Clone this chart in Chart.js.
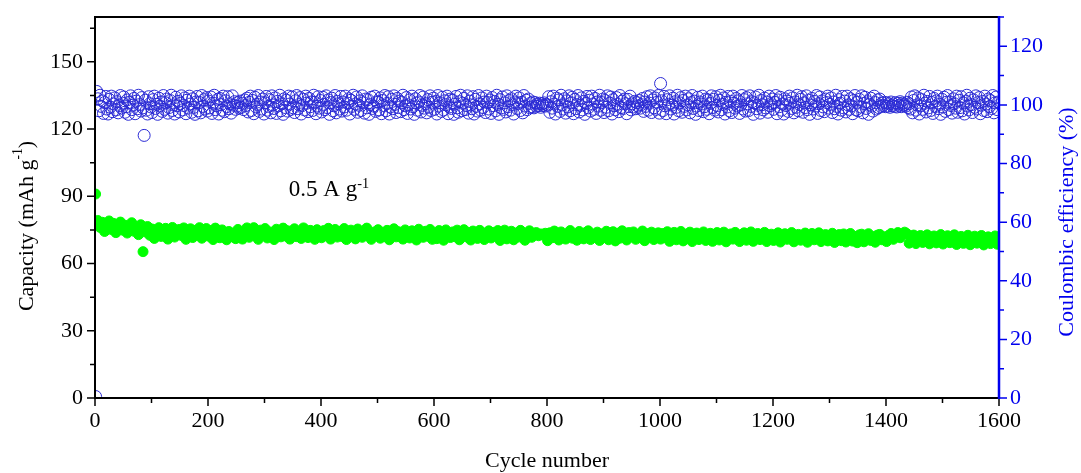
<!DOCTYPE html>
<html>
<head>
<meta charset="utf-8">
<script src="https://cdn.jsdelivr.net/npm/chart.js"></script>
<style>
  html, body { margin: 0; padding: 0; background: #fff; }
  #wrap { width: 1081px; height: 473px; position: relative; }
</style>
</head>
<body>
<div id="wrap"><canvas id="cycleChart"></canvas></div>
<script>
// cycle numbers: capacity read every 4th cycle, efficiency every 2nd cycle
const capCycles = Array.from({ length: 400 }, (_, i) => 1 + i * 4);
const ceCycles = Array.from({ length: 800 }, (_, i) => 1 + i * 2);

// capacity, mAh g-1
const capacity = [
  91.0, 79.2, 76.1, 78.4, 74.3, 77.6, 79.0, 75.2, 77.9, 73.8, 76.7, 78.5, 74.9, 77.1, 73.6, 76.0, 78.2, 74.4, 75.8, 72.9, 77.3, 65.3, 74.1, 76.5, 72.6,
  75.4, 71.2, 74.6, 76.0, 72.1, 73.5, 75.7, 70.9, 74.2, 76.1, 71.8, 73.0, 75.2, 72.5, 75.9, 70.8, 73.9, 75.5, 71.6, 74.8, 72.7, 76.0, 71.3, 74.0, 75.6,
  72.2, 74.7, 70.7, 75.8, 73.1, 71.5, 75.0, 72.8, 70.6, 74.3, 72.0, 73.6, 71.1, 75.2, 72.9, 70.9, 74.5, 75.9, 71.7, 73.4, 76.0, 72.4, 70.8, 74.9, 73.0,
  75.6, 71.4, 74.1, 72.6, 70.7, 75.3, 73.7, 71.9, 75.8, 72.3, 74.6, 70.9, 73.3, 75.5, 72.0, 74.0, 71.2, 75.9, 73.5, 71.6, 74.8, 72.7, 70.8, 75.1, 73.2,
  71.5, 74.7, 72.4, 75.7, 70.9, 73.8, 75.2, 71.8, 74.3, 72.1, 75.6, 70.7, 73.4, 74.9, 72.6, 71.0, 75.4, 73.1, 71.7, 74.5, 75.8, 72.2, 70.8, 74.0, 73.0,
  75.1, 71.3, 73.7, 72.0, 74.8, 70.6, 73.2, 75.5, 71.9, 74.2, 72.5, 70.9, 75.0, 73.5, 71.4, 74.6, 72.8, 70.5, 75.3, 73.0, 71.7, 74.4, 72.2, 75.2, 70.8,
  73.6, 71.1, 74.7, 72.4, 70.4, 75.0, 73.3, 71.6, 74.1, 72.0, 74.9, 70.6, 73.0, 75.1, 71.9, 73.8, 70.5, 74.5, 72.7, 71.2, 74.8, 73.4, 70.7, 72.3, 74.6,
  71.4, 73.9, 72.2, 74.7, 70.3, 73.1, 74.9, 71.0, 72.8, 74.4, 70.6, 73.6, 71.8, 74.8, 72.5, 70.4, 73.3, 74.6, 71.7, 72.9, 73.8, 72.4, 73.2, 72.7, 73.5,
  70.2, 73.7, 71.5, 74.5, 72.0, 70.5, 74.1, 72.8, 70.9, 73.4, 74.7, 71.3, 72.6, 70.4, 74.3, 72.2, 71.0, 73.9, 74.6, 70.7, 72.9, 71.6, 74.0, 70.3, 73.2,
  71.8, 74.4, 70.6, 72.7, 74.2, 70.1, 73.5, 71.3, 74.6, 72.0, 70.5, 73.8, 72.4, 74.1, 70.8, 72.9, 71.5, 74.5, 70.2, 73.3, 71.9, 74.0, 70.7, 72.6, 73.7,
  70.9, 73.4, 71.6, 74.2, 69.9, 72.8, 73.9, 70.6, 72.2, 74.3, 70.1, 73.0, 71.4, 74.0, 69.8, 72.5, 73.6, 70.7, 71.9, 74.1, 70.3, 72.7, 73.5, 69.9, 72.1,
  73.8, 70.5, 72.3, 74.0, 69.7, 71.8, 73.2, 70.9, 73.9, 71.4, 69.8, 72.9, 73.7, 70.4, 72.1, 74.1, 69.9, 71.6, 73.4, 70.7, 72.6, 73.9, 69.8, 71.9, 73.1,
  70.3, 72.8, 73.7, 69.6, 71.5, 73.3, 70.8, 72.2, 73.8, 69.7, 71.9, 73.0, 70.4, 72.6, 73.6, 69.5, 71.2, 73.4, 70.6, 72.3, 73.7, 69.8, 71.7, 72.9, 70.1,
  72.5, 73.5, 69.4, 71.3, 72.9, 70.2, 73.2, 69.6, 71.8, 73.4, 70.0, 72.1, 69.3, 72.8, 73.1, 69.7, 71.5, 73.3, 70.3, 72.0, 69.5, 72.7, 73.0, 70.6, 71.9,
  69.8, 72.6, 73.4, 70.8, 72.1, 73.8, 71.5, 72.9, 74.0, 73.3, 69.1, 71.4, 72.7, 68.9, 70.8, 72.5, 69.4, 71.9, 72.8, 68.8, 70.5, 72.3, 69.2, 71.7, 72.9,
  68.7, 70.9, 72.4, 69.3, 71.6, 72.8, 68.5, 70.4, 72.1, 69.0, 71.3, 72.6, 68.4, 70.7, 72.2, 69.1, 71.8, 72.5, 68.3, 70.2, 71.9, 68.9, 71.0, 72.3, 68.6
];

// coulombic efficiency, %
const efficiency = [
  0.5, 104.6, 102.1, 98.0, 103.3, 99.5, 101.4, 97.1, 100.8, 102.9, 98.6, 96.9, 101.9, 99.2, 103.0, 97.7, 100.3, 102.4, 98.3, 101.1, 97.3, 99.8, 103.2, 98.9, 100.6,
  102.7, 97.5, 99.4, 101.7, 96.8, 100.9, 103.1, 98.4, 99.9, 102.2, 97.0, 101.3, 98.7, 103.3, 100.1, 97.9, 102.5, 99.0, 89.6, 101.6, 98.2, 96.9, 102.8, 100.4, 99.3,
  97.4, 101.8, 103.0, 98.8, 100.2, 96.8, 102.3, 99.6, 101.0, 97.8, 103.2, 98.5, 100.7, 102.0, 97.2, 99.1, 101.5, 103.3, 98.1, 100.0, 96.9, 102.6, 99.7, 101.2, 97.6,
  100.5, 103.1, 98.3, 99.8, 102.4, 97.0, 101.6, 98.9, 103.0, 100.3, 97.5, 102.1, 99.2, 96.8, 101.0, 102.9, 98.0, 100.8, 97.3, 103.2, 99.5, 101.8, 98.6, 102.5, 97.9,
  101.3, 99.0, 102.7, 97.1, 100.6, 103.3, 98.4, 99.7, 101.9, 96.9, 102.2, 100.1, 98.2, 103.0, 97.7, 101.4, 99.4, 102.8, 98.7, 100.4, 97.2, 103.1, 99.9, 101.1, 98.5,
  99.6, 100.8, 98.9, 101.3, 99.2, 100.5, 98.4, 101.7, 99.8, 102.3, 97.6, 100.9, 103.0, 98.1, 101.5, 97.0, 102.6, 99.3, 100.2, 103.2, 97.8, 101.0, 98.6, 102.0, 96.9,
  100.7, 102.9, 98.2, 99.5, 101.8, 97.3, 103.1, 100.0, 98.8, 102.4, 97.1, 101.2, 99.7, 103.3, 98.0, 100.4, 96.8, 102.1, 99.1, 101.6, 97.9, 103.0, 100.3, 98.5, 102.7,
  99.0, 97.4, 101.4, 103.2, 98.7, 100.1, 102.5, 96.9, 99.8, 101.9, 98.3, 103.0, 100.6, 97.7, 102.2, 99.4, 101.0, 98.1, 103.3, 100.9, 97.0, 99.6, 102.8, 98.9, 101.5,
  97.6, 102.6, 100.2, 98.4, 103.1, 99.1, 101.7, 96.8, 100.8, 102.3, 98.0, 99.7, 103.2, 97.3, 101.2, 100.4, 98.6, 102.9, 97.9, 101.0, 99.3, 103.0, 98.2, 100.6, 102.1,
  96.9, 101.6, 99.5, 103.3, 98.5, 100.3, 102.7, 97.5, 99.9, 101.4, 98.1, 103.1, 100.7, 97.2, 102.0, 99.0, 101.8, 96.8, 100.1, 102.6, 98.8, 99.6, 103.0, 97.8, 101.1,
  100.9, 98.3, 102.4, 97.0, 101.5, 99.8, 103.2, 98.0, 100.5, 102.8, 96.9, 99.3, 101.9, 98.7, 103.1, 100.2, 97.4, 102.2, 99.1, 101.3, 97.7, 100.8, 103.3, 98.4, 99.7,
  102.5, 97.1, 100.0, 101.7, 98.6, 103.0, 99.4, 96.8, 102.1, 100.6, 98.2, 101.0, 103.2, 97.6, 99.9, 102.7, 98.9, 100.4, 97.3, 101.8, 99.2, 103.1, 98.1, 100.9, 102.3,
  98.5, 101.2, 96.9, 103.2, 99.6, 100.7, 97.8, 102.6, 98.3, 101.4, 100.1, 103.0, 97.0, 99.3, 102.0, 98.8, 101.6, 96.8, 100.3, 102.9, 99.0, 97.5, 101.1, 103.3, 98.0,
  100.6, 102.2, 98.4, 99.8, 103.1, 97.2, 101.3, 100.0, 98.7, 102.8, 96.9, 101.9, 99.5, 97.9, 103.2, 100.4, 98.2, 102.4, 99.1, 101.0, 97.4, 103.0, 100.8, 98.6, 101.7,
  97.1, 102.5, 99.7, 101.2, 98.0, 103.3, 100.2, 96.8, 101.8, 99.0, 102.7, 98.5, 100.7, 97.6, 103.1, 99.4, 101.5, 98.2, 102.1, 100.0, 96.9, 101.0, 103.0, 98.8, 100.5,
  102.4, 98.1, 100.9, 97.3, 103.2, 99.6, 101.6, 98.4, 102.0, 99.1, 100.6, 99.4, 101.0, 99.0, 100.8, 99.5, 100.3, 99.7, 100.6, 99.2, 100.4, 99.8, 100.7, 99.6, 100.2,
  99.9, 102.8, 97.5, 101.1, 98.9, 103.0, 100.3, 96.9, 102.3, 99.5, 101.7, 97.8, 103.3, 100.0, 98.6, 102.1, 97.2, 101.4, 99.3, 103.1, 98.0, 100.7, 102.6, 97.0, 101.9,
  98.7, 100.1, 103.2, 97.6, 99.8, 102.4, 98.3, 101.2, 96.8, 100.5, 102.9, 99.0, 101.6, 97.9, 103.0, 100.3, 98.5, 102.2, 97.1, 101.0, 99.6, 103.3, 98.2, 100.8, 102.0,
  97.4, 101.5, 99.2, 103.1, 98.0, 100.6, 102.7, 96.9, 101.8, 99.7, 98.4, 102.5, 100.2, 97.7, 103.2, 99.1, 101.3, 98.8, 102.0, 100.4, 97.0, 101.9, 99.4, 103.0, 98.3,
  100.4, 99.3, 101.2, 98.7, 100.8, 99.6, 101.5, 98.9, 100.1, 102.2, 97.8, 101.0, 99.5, 102.8, 98.2, 100.6, 103.1, 97.4, 101.7, 99.0, 102.4, 98.5, 100.9, 103.2, 97.2,
  107.3, 101.4, 98.1, 102.9, 99.7, 97.0, 101.8, 100.2, 103.1, 98.6, 99.9, 102.3, 96.9, 101.1, 99.2, 103.3, 98.0, 100.7, 102.5, 97.5, 101.5, 99.5, 103.0, 98.3, 100.0,
  102.1, 97.3, 100.8, 103.2, 98.8, 101.3, 96.8, 99.6, 102.6, 98.1, 101.0, 100.3, 103.0, 97.7, 99.4, 102.0, 98.5, 101.7, 97.0, 100.5, 103.1, 99.1, 101.9, 98.2, 102.8,
  99.8, 97.6, 101.6, 103.3, 98.4, 100.2, 102.4, 96.9, 100.9, 99.3, 102.9, 98.0, 101.2, 97.4, 103.0, 100.6, 98.9, 102.2, 99.6, 101.4, 97.1, 100.0, 103.2, 98.6, 101.8,
  97.9, 102.5, 100.4, 98.1, 103.1, 99.5, 101.1, 96.8, 100.7, 102.7, 98.7, 99.9, 103.3, 97.2, 101.5, 100.1, 98.3, 102.3, 99.0, 101.0, 97.5, 103.0, 99.7, 100.5, 102.0,
  98.5, 100.9, 103.2, 97.0, 101.7, 99.4, 102.6, 98.2, 100.3, 96.9, 102.1, 99.8, 101.3, 97.8, 103.0, 100.6, 98.8, 102.4, 97.3, 101.0, 99.2, 103.3, 98.0, 100.1, 101.9,
  102.8, 97.5, 100.7, 99.1, 103.1, 98.4, 101.6, 96.8, 100.0, 102.2, 98.6, 101.2, 99.6, 103.2, 97.1, 100.4, 102.7, 98.1, 101.4, 99.3, 97.7, 102.0, 100.8, 103.0, 98.9,
  100.2, 102.4, 97.4, 101.0, 98.7, 103.3, 99.5, 96.9, 101.8, 100.6, 98.2, 102.9, 99.0, 101.3, 97.6, 103.0, 100.0, 98.5, 102.1, 99.7, 97.0, 101.5, 103.2, 98.3, 100.9,
  98.0, 101.9, 99.3, 103.1, 97.3, 100.5, 102.6, 98.8, 101.1, 96.8, 100.2, 102.3, 99.6, 97.9, 103.0, 100.8, 98.6, 101.7, 99.1, 102.0, 99.5, 100.6, 99.8, 100.9, 99.4,
  100.7, 99.6, 100.4, 99.2, 101.0, 99.7, 100.3, 99.5, 100.8, 99.3, 100.5, 99.9, 101.1, 99.4, 100.6, 99.8, 100.2, 99.6, 100.9, 99.1, 100.4, 98.6, 102.7, 97.3, 101.5,
  103.1, 98.2, 100.0, 102.4, 96.9, 99.7, 101.8, 98.5, 103.3, 100.6, 97.6, 101.2, 99.0, 102.9, 98.1, 100.8, 97.1, 102.2, 99.5, 101.4, 103.0, 98.7, 100.2, 96.8, 101.9,
  99.3, 102.6, 97.8, 100.9, 103.2, 98.4, 101.0, 99.8, 97.2, 102.1, 100.4, 98.9, 103.0, 97.5, 101.6, 99.1, 102.8, 98.0, 100.6, 96.9, 101.3, 103.3, 99.6, 98.3, 102.3,
  100.1, 97.4, 101.7, 99.2, 103.1, 98.6, 100.8, 102.5, 97.0, 99.9, 101.2, 98.1, 103.0, 100.3, 97.7, 102.0, 99.4, 101.5, 98.8, 103.2, 97.3, 100.7, 102.7, 98.4, 101.0
];

// tick labels
const cycleTicks = [0, 200, 400, 600, 800, 1000, 1200, 1400, 1600];
const capacityTicks = [0, 30, 60, 90, 120, 150];
const efficiencyTicks = [0, 20, 40, 60, 80, 100, 120];

const SERIF = "'Liberation Serif', 'Times New Roman', serif";
const BLUE = "#0000ee";

// draws text with a superscript piece, centred on (0,0)
function drawParts(ctx, parts, size) {
  let total = 0;
  parts.forEach(p => {
    ctx.font = (p.sup ? size * 0.62 : size) + "px " + SERIF;
    p.w = ctx.measureText(p.t).width;
    total += p.w;
  });
  let x = -total / 2;
  parts.forEach(p => {
    ctx.font = (p.sup ? size * 0.62 : size) + "px " + SERIF;
    ctx.fillText(p.t, x, p.sup ? -size * 0.38 : 0);
    x += p.w;
  });
  return total;
}

const framePlugin = {
  id: "frame",
  afterDraw(chart) {
    const { ctx, chartArea: a, scales } = chart;
    const xs = scales.x, yl = scales.y, yr = scales.y1;
    ctx.save();

    // black frame: left, bottom, top
    ctx.strokeStyle = "#000";
    ctx.lineWidth = 2;
    ctx.beginPath();
    ctx.moveTo(a.right, a.top); ctx.lineTo(a.left, a.top);
    ctx.lineTo(a.left, a.bottom); ctx.lineTo(a.right, a.bottom);
    ctx.stroke();

    // x ticks
    ctx.lineWidth = 1.5;
    ctx.beginPath();
    cycleTicks.forEach((v, i) => {
      const px = xs.getPixelForValue(v);
      ctx.moveTo(px, a.bottom); ctx.lineTo(px, a.bottom + 8);
      if (i > 0) {
        const mx = xs.getPixelForValue(v - 100);
        ctx.moveTo(mx, a.bottom); ctx.lineTo(mx, a.bottom + 5);
      }
    });
    // left y ticks
    capacityTicks.forEach(v => {
      const py = yl.getPixelForValue(v);
      ctx.moveTo(a.left, py); ctx.lineTo(a.left - 8, py);
      const my = yl.getPixelForValue(v + 15);
      ctx.moveTo(a.left, my); ctx.lineTo(a.left - 5, my);
    });
    ctx.stroke();

    // blue right axis
    ctx.strokeStyle = BLUE;
    ctx.lineWidth = 2.5;
    ctx.beginPath();
    ctx.moveTo(a.right, a.top - 1); ctx.lineTo(a.right, a.bottom + 1);
    ctx.stroke();
    ctx.lineWidth = 1.5;
    ctx.beginPath();
    efficiencyTicks.forEach(v => {
      const py = yr.getPixelForValue(v);
      ctx.moveTo(a.right, py); ctx.lineTo(a.right + 8, py);
      const my = yr.getPixelForValue(v + 10);
      ctx.moveTo(a.right, my); ctx.lineTo(a.right + 5, my);
    });
    ctx.stroke();

    // axis titles
    ctx.textBaseline = "middle";
    ctx.fillStyle = "#000";
    ctx.save();
    ctx.translate(27, 226);
    ctx.rotate(-Math.PI / 2);
    drawParts(ctx, [{ t: "Capacity (mAh g" }, { t: "-1", sup: true }, { t: ")" }], 22);
    ctx.restore();

    ctx.save();
    ctx.fillStyle = BLUE;
    ctx.translate(1067, 222);
    ctx.rotate(-Math.PI / 2);
    drawParts(ctx, [{ t: "Coulombic efficiency (%)" }], 22);
    ctx.restore();

    ctx.save();
    ctx.translate((a.left + a.right) / 2, 461);
    drawParts(ctx, [{ t: "Cycle number" }], 22);
    ctx.restore();

    // current density note
    ctx.save();
    ctx.textBaseline = "alphabetic";
    const nx = xs.getPixelForValue(414), ny = yl.getPixelForValue(90);
    ctx.translate(nx, ny);
    drawParts(ctx, [{ t: "0.5 A g" }, { t: "-1", sup: true }], 23);
    ctx.restore();

    ctx.restore();
  }
};

const tickFont = { family: SERIF, size: 22 };
const plainLabel = (v) => String(v);

window.addEventListener("load", () => {
  const ctx = document.getElementById("cycleChart");

  const cycleChart = new Chart(ctx, {
    type: "scatter",
    data: {
      datasets: [
        {
          label: "Coulombic efficiency",
          data: efficiency.map((v, i) => ({ x: ceCycles[i], y: v })),
          yAxisID: "y1",
          showLine: false,
          pointRadius: 6,
          pointBorderWidth: 1,
          pointBorderColor: "#2a2ad4",
          pointBackgroundColor: "rgba(0,0,0,0)",
          clip: 0,
        },
        {
          label: "Capacity",
          data: capacity.map((v, i) => ({ x: capCycles[i], y: v })),
          yAxisID: "y",
          showLine: false,
          pointRadius: 5,
          pointBorderWidth: 1,
          pointBorderColor: "#00ff00",
          pointBackgroundColor: "#00ff00",
          clip: 0,
        },
      ],
    },
    options: {
      responsive: true,
      maintainAspectRatio: false,
      animation: false,
      layout: { padding: { top: 17, left: 0, right: 0, bottom: 0 } },
      plugins: { legend: { display: false }, tooltip: { enabled: false } },
      scales: {
        x: {
          type: "linear",
          min: 0,
          max: 1600,
          grid: { display: false, drawTicks: false },
          border: { display: false },
          afterBuildTicks: (axis) => { axis.ticks = cycleTicks.map(v => ({ value: v })); },
          ticks: { font: tickFont, color: "#000", padding: 10, maxRotation: 0, autoSkip: false, callback: plainLabel },
          afterFit: (axis) => { axis.height = 75; axis.paddingLeft = 0; axis.paddingRight = 0; },
        },
        y: {
          position: "left",
          min: 0,
          max: 170,
          grid: { display: false, drawTicks: false },
          border: { display: false },
          afterBuildTicks: (axis) => { axis.ticks = capacityTicks.map(v => ({ value: v })); },
          ticks: { font: tickFont, color: "#000", padding: 12, callback: plainLabel },
          afterFit: (axis) => { axis.width = 95; axis.paddingTop = 0; axis.paddingBottom = 0; },
        },
        y1: {
          position: "right",
          min: 0,
          max: 130,
          grid: { display: false, drawTicks: false },
          border: { display: false },
          afterBuildTicks: (axis) => { axis.ticks = efficiencyTicks.map(v => ({ value: v })); },
          ticks: { font: tickFont, color: BLUE, padding: 11, callback: plainLabel },
          afterFit: (axis) => { axis.width = 82; axis.paddingTop = 0; axis.paddingBottom = 0; },
        },
      },
    },
    plugins: [framePlugin],
  });
});
</script>
</body>
</html>
